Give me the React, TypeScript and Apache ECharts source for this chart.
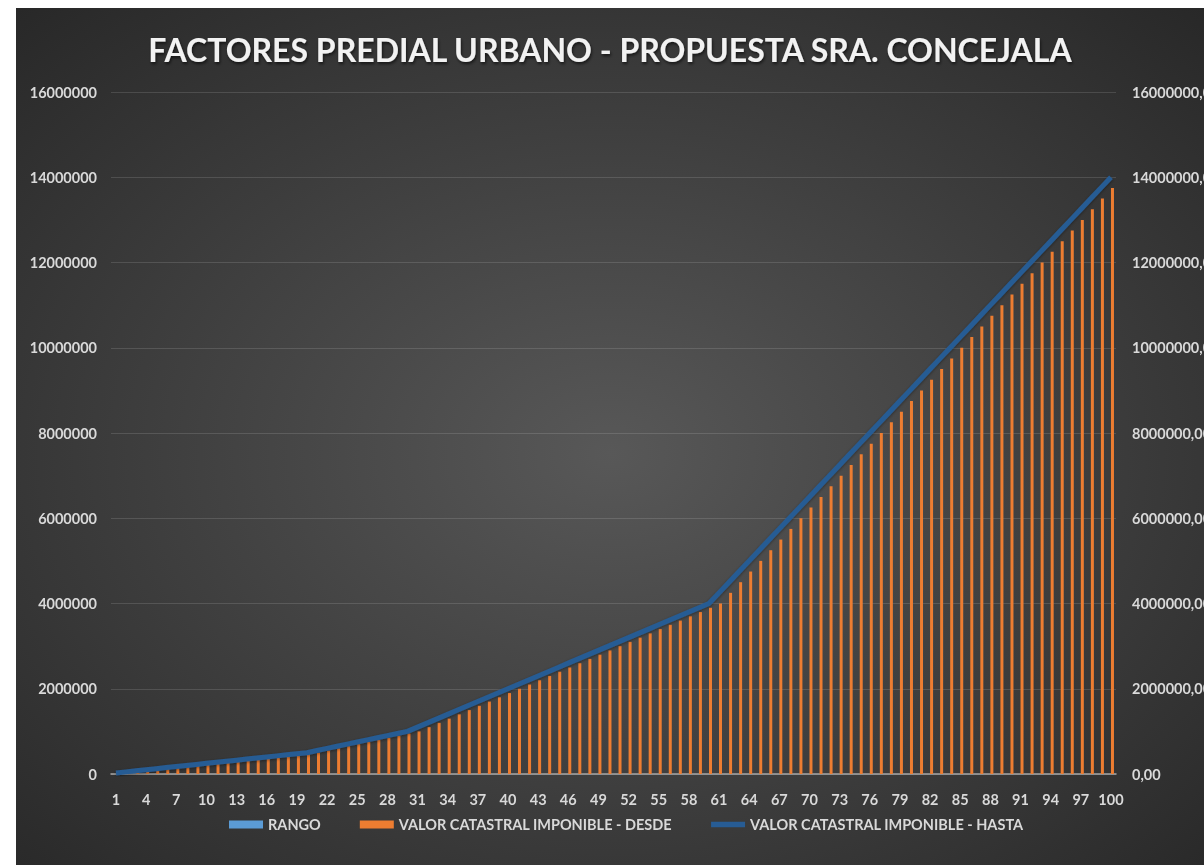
import React, { useEffect, useRef } from "react";
import * as echarts from "echarts";

const rango = [
  1, 2, 3, 4, 5, 6, 7, 8, 9, 10, 11, 12, 13, 14, 15, 16, 17, 18, 19, 20,
  21, 22, 23, 24, 25, 26, 27, 28, 29, 30, 31, 32, 33, 34, 35, 36, 37, 38, 39, 40,
  41, 42, 43, 44, 45, 46, 47, 48, 49, 50, 51, 52, 53, 54, 55, 56, 57, 58, 59, 60,
  61, 62, 63, 64, 65, 66, 67, 68, 69, 70, 71, 72, 73, 74, 75, 76, 77, 78, 79, 80,
  81, 82, 83, 84, 85, 86, 87, 88, 89, 90, 91, 92, 93, 94, 95, 96, 97, 98, 99, 100,
];

const categories = rango.map((r) => String(r));

const desde = [
  0, 25000, 50000, 75000, 100000, 125000, 150000, 175000, 200000, 225000,
  250000, 275000, 300000, 325000, 350000, 375000, 400000, 425000, 450000, 475000,
  500000, 550000, 600000, 650000, 700000, 750000, 800000, 850000, 900000, 950000,
  1000000, 1100000, 1200000, 1300000, 1400000, 1500000, 1600000, 1700000, 1800000, 1900000,
  2000000, 2100000, 2200000, 2300000, 2400000, 2500000, 2600000, 2700000, 2800000, 2900000,
  3000000, 3100000, 3200000, 3300000, 3400000, 3500000, 3600000, 3700000, 3800000, 3900000,
  4000000, 4250000, 4500000, 4750000, 5000000, 5250000, 5500000, 5750000, 6000000, 6250000,
  6500000, 6750000, 7000000, 7250000, 7500000, 7750000, 8000000, 8250000, 8500000, 8750000,
  9000000, 9250000, 9500000, 9750000, 10000000, 10250000, 10500000, 10750000, 11000000, 11250000,
  11500000, 11750000, 12000000, 12250000, 12500000, 12750000, 13000000, 13250000, 13500000, 13750000,
];

const hasta = [
  25000, 50000, 75000, 100000, 125000, 150000, 175000, 200000, 225000, 250000,
  275000, 300000, 325000, 350000, 375000, 400000, 425000, 450000, 475000, 500000,
  550000, 600000, 650000, 700000, 750000, 800000, 850000, 900000, 950000, 1000000,
  1100000, 1200000, 1300000, 1400000, 1500000, 1600000, 1700000, 1800000, 1900000, 2000000,
  2100000, 2200000, 2300000, 2400000, 2500000, 2600000, 2700000, 2800000, 2900000, 3000000,
  3100000, 3200000, 3300000, 3400000, 3500000, 3600000, 3700000, 3800000, 3900000, 4000000,
  4250000, 4500000, 4750000, 5000000, 5250000, 5500000, 5750000, 6000000, 6250000, 6500000,
  6750000, 7000000, 7250000, 7500000, 7750000, 8000000, 8250000, 8500000, 8750000, 9000000,
  9250000, 9500000, 9750000, 10000000, 10250000, 10500000, 10750000, 11000000, 11250000, 11500000,
  11750000, 12000000, 12250000, 12500000, 12750000, 13000000, 13250000, 13500000, 13750000, 14000000,
];

const seriesNames = [
  "RANGO",
  "VALOR CATASTRAL IMPONIBLE - DESDE",
  "VALOR CATASTRAL IMPONIBLE - HASTA",
];

const TITLE = "FACTORES PREDIAL URBANO - PROPUESTA SRA. CONCEJALA";
const FONT = "Lato, 'Open Sans', sans-serif";

export default function App() {
  const ref = useRef<HTMLDivElement>(null);
  useEffect(() => {
    if (!ref.current) return;
    const chart = echarts.init(ref.current, null, { renderer: "svg" });
    const labelColor = "#d9d9d9";
    chart.setOption({
      animation: false,
      backgroundColor: {
        type: "radial",
        x: 0.5,
        y: 0.52,
        r: 0.75,
        colorStops: [
          { offset: 0, color: "#585858" },
          { offset: 1, color: "#262626" },
        ],
      },
      title: {
        text: TITLE,
        left: "center",
        top: 20,
        textStyle: {
          fontFamily: FONT,
          fontSize: 32,
          fontWeight: "bold",
          color: "#f2f2f2",
          textShadowColor: "rgba(0,0,0,0.6)",
          textShadowBlur: 3,
          textShadowOffsetX: 1,
          textShadowOffsetY: 2,
        },
      },
      legend: {
        bottom: 28,
        left: 208,
        itemWidth: 34,
        itemHeight: 8,
        itemGap: 39,
        textStyle: {
          fontFamily: FONT,
          fontSize: 14.5,
          fontWeight: "bold",
          color: labelColor,
        },
        data: [
          { name: seriesNames[0], icon: "rect" },
          { name: seriesNames[1], icon: "rect" },
          { name: seriesNames[2], icon: "path://M0,0 L38,0 L38,6 L0,6 Z" },
        ],
      },
      grid: {
        left: 95,
        right: 88,
        top: 84,
        bottom: 91,
        containLabel: false,
        outerBoundsMode: "none",
      },
      xAxis: {
        type: "category",
        data: categories,
        axisTick: { show: false },
        axisLine: { lineStyle: { color: "#a6a6a6", width: 1.5 } },
        axisLabel: {
          interval: 2,
          color: labelColor,
          fontFamily: FONT,
          fontSize: 14.5,
          fontWeight: "bold",
          margin: 18,
        },
      },
      yAxis: [
        {
          type: "value",
          min: 0,
          max: 16000000,
          interval: 2000000,
          axisLine: { show: false },
          axisTick: { show: false },
          splitLine: { lineStyle: { color: "rgba(255,255,255,0.13)", width: 1 } },
          axisLabel: {
            color: labelColor,
            fontFamily: FONT,
            fontSize: 14.5,
            fontWeight: "bold",
            margin: 14,
            formatter: (v: number) => String(v),
          },
        },
        {
          type: "value",
          min: 0,
          max: 16000000,
          interval: 2000000,
          position: "right",
          axisLine: { show: false },
          axisTick: { show: false },
          splitLine: { show: false },
          axisLabel: {
            color: labelColor,
            fontFamily: FONT,
            fontSize: 14.5,
            fontWeight: "bold",
            margin: 16,
            formatter: (v: number) => v.toFixed(2).replace(".", ","),
          },
        },
      ],
      series: [
        {
          name: seriesNames[0],
          type: "bar",
          data: rango,
          barWidth: 3,
          barGap: "0%",
          itemStyle: { color: "#5B9BD5" },
        },
        {
          name: seriesNames[1],
          type: "bar",
          data: desde,
          barWidth: 3,
          barGap: "0%",
          itemStyle: { color: "#ED7D31" },
        },
        {
          name: seriesNames[2],
          type: "line",
          yAxisIndex: 1,
          data: hasta,
          symbol: "none",
          showSymbol: false,
          lineStyle: {
            color: "#275C94",
            width: 5,
            shadowColor: "rgba(0,0,0,0.4)",
            shadowBlur: 3,
            shadowOffsetY: 1,
          },
          itemStyle: { color: "#275C94" },
          z: 5,
        },
      ],
    });
    return () => chart.dispose();
  }, []);
  return (
    <div
      ref={ref}
      style={{ position: "fixed", left: 16, top: 8, width: 1188, height: 857 }}
    />
  );
}
